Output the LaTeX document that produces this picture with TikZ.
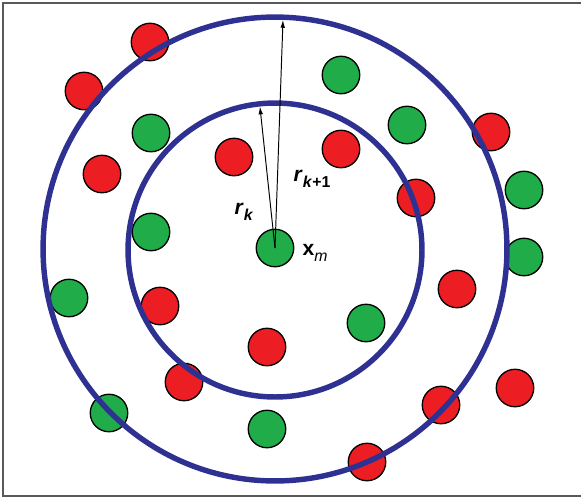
\documentclass[tikz,border=0pt]{standalone}
\usepackage{fontspec}
\setmainfont{Liberation Sans}
\usepackage{tikz}
\usetikzlibrary{arrows.meta,positioning}

\definecolor{ringblue}{RGB}{46,49,146}
\definecolor{dotred}{RGB}{236,30,36}
\definecolor{dotgreen}{RGB}{32,172,72}
\newcommand{\idx}[1]{\raisebox{-0.5ex}{\fontsize{9}{10}\selectfont #1}}

\begin{document}
\begin{tikzpicture}[
  x=0.02cm, y=-0.02cm,
  font=\fontsize{12}{14}\selectfont,
  dot/.style={circle, draw=black, line width=0.75pt, inner sep=0pt,
    minimum size=0.75cm},
  reddot/.style={dot, fill=dotred},
  greendot/.style={dot, fill=dotgreen},
  ring/.style={circle, draw=ringblue, line width=3.1pt, inner sep=0pt,
    outer sep=0pt},
  arr/.style={-{Latex[length=4.5pt,width=2.6pt]}, line width=0.55pt,
    shorten >=1.5pt}
]
\useasboundingbox (0,0) rectangle (581,498);
\draw[draw=black!65, line width=0.85pt] (582,3) -- (3,3) -- (3,496) -- (582,496);

% points
\foreach \px/\py [count=\i] in {150/42, 84/91, 102/174, 234/157, 341/149,
    491/132, 416/198, 160/306, 267/347, 457/289, 184/382, 515/388,
    441/405, 367/462}
  \node[reddot] (red\i) at (\px,\py) {};
\foreach \px/\py [count=\i] in {341/75, 407/125, 151/133, 524/190,
    151/232, 524/257, 69/298, 366/323, 109/413, 267/429}
  \node[greendot] (green\i) at (\px,\py) {};
\node[greendot] (xm) at (275,248) {};

% neighbourhood rings
\node[ring, minimum size=9.28cm] (outer) at (275,249) {};
\node[ring, minimum size=5.88cm] (inner) at (275,250) {};

\draw[arr] (xm.center) -- (inner.96);
\draw[arr] (xm.center) -- (outer.88);
\node (rk) at (244,212) {\textbf{\textit{r}}\idx{\textbf{\textit{k}}}};
\node (rk1) at (312,179) {\textbf{\textit{r}}\idx{\textbf{\textit{k}+1}}};
\node[right=0.04cm of xm, yshift=-0.1cm] (xmlabel) {\textbf{x}\idx{\textit{m}}};
\end{tikzpicture}
\end{document}
